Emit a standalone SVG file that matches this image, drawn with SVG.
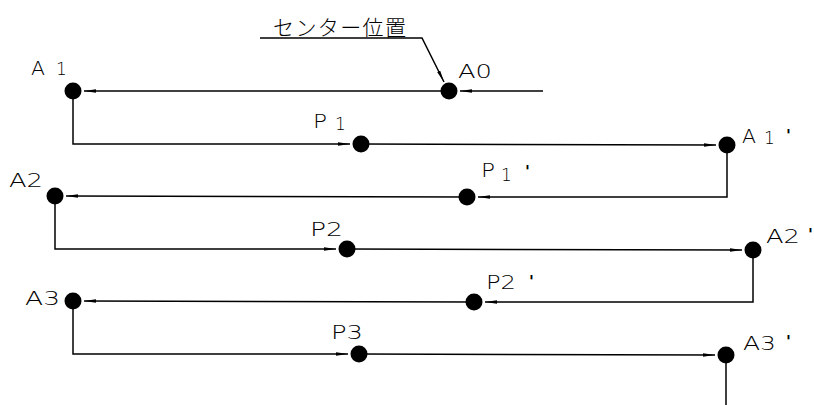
<svg xmlns="http://www.w3.org/2000/svg" width="814" height="405" viewBox="0 0 814 405">
<style>
.ln{fill:none;stroke:#000;stroke-width:1.5}
.dot{fill:#000}
.t{font-family:"DejaVu Sans","Liberation Sans",sans-serif;font-size:20px;font-weight:200;fill:#000}
.s{font-family:"DejaVu Sans","Liberation Sans",sans-serif;font-size:17px;font-weight:200;fill:#000}
.q{font-family:"DejaVu Sans","Liberation Sans",sans-serif;font-size:16px;font-weight:bold;fill:#000}
.jp{font-family:"Noto Sans CJK JP","Noto Sans",sans-serif;font-size:21px;font-weight:300;fill:#000}
</style>
<defs>
<marker id="ah" viewBox="0 0 12 4" refX="12" refY="2" markerWidth="12" markerHeight="4" orient="auto" markerUnits="userSpaceOnUse">
<path d="M0,0.3 L12,2 L0,3.7 z" fill="#000"/>
</marker>
</defs>
<rect width="814" height="405" fill="#fff"/>
<g id="connectors">
<path class="ln" d="M543,91 H460" marker-end="url(#ah)"/>
<path class="ln" d="M449,91 H84" marker-end="url(#ah)"/>
<path class="ln" d="M73,91 V144 H350" marker-end="url(#ah)"/>
<path class="ln" d="M361,144 L716,145" marker-end="url(#ah)"/>
<path class="ln" d="M727,145 V197 H478" marker-end="url(#ah)"/>
<path class="ln" d="M467,197 L66,196" marker-end="url(#ah)"/>
<path class="ln" d="M55,196 V249 H336" marker-end="url(#ah)"/>
<path class="ln" d="M347,249 L742,250" marker-end="url(#ah)"/>
<path class="ln" d="M753,250 V302 H485" marker-end="url(#ah)"/>
<path class="ln" d="M474,302 L84,301" marker-end="url(#ah)"/>
<path class="ln" d="M73,301 V354 H348" marker-end="url(#ah)"/>
<path class="ln" d="M359,354 L715,355" marker-end="url(#ah)"/>
<path class="ln" d="M726,355 V405"/>
<path class="ln" d="M260,38 H422 L444,82" marker-end="url(#ah)"/>
</g>
<g id="center-label">
<text class="jp" x="273" y="35" textLength="133" lengthAdjust="spacing">センター位置</text>
</g>
<g id="A0">
<circle class="dot" cx="449" cy="91" r="8.5"/>
<text class="t" x="458" y="78" textLength="34" lengthAdjust="spacingAndGlyphs">A0</text>
</g>
<g id="A1">
<circle class="dot" cx="73" cy="91" r="8.5"/>
<text class="t" x="31" y="75" textLength="14" lengthAdjust="spacingAndGlyphs">A</text>
<text class="s" x="56" y="75">1</text>
</g>
<g id="P1">
<circle class="dot" cx="361" cy="144" r="8.5"/>
<text class="t" x="313" y="128" textLength="14" lengthAdjust="spacingAndGlyphs">P</text>
<text class="s" x="335" y="130">1</text>
</g>
<g id="A1p">
<circle class="dot" cx="727" cy="145" r="8.5"/>
<text class="t" x="742" y="143" textLength="14" lengthAdjust="spacingAndGlyphs">A</text>
<text class="s" x="764" y="144">1</text>
<text class="q" x="786" y="141">'</text>
</g>
<g id="P1p">
<circle class="dot" cx="467" cy="197" r="8.5"/>
<text class="t" x="481" y="177" textLength="14" lengthAdjust="spacingAndGlyphs">P</text>
<text class="s" x="501" y="181">1</text>
<text class="q" x="525" y="177">'</text>
</g>
<g id="A2">
<circle class="dot" cx="55" cy="196" r="8.5"/>
<text class="t" x="9" y="187" textLength="34" lengthAdjust="spacingAndGlyphs">A2</text>
</g>
<g id="P2">
<circle class="dot" cx="347" cy="249" r="8.5"/>
<text class="t" x="310" y="236" textLength="33" lengthAdjust="spacingAndGlyphs">P2</text>
</g>
<g id="A2p">
<circle class="dot" cx="753" cy="250" r="8.5"/>
<text class="t" x="766" y="243" textLength="34" lengthAdjust="spacingAndGlyphs">A2</text>
<text class="q" x="808" y="240">'</text>
</g>
<g id="P2p">
<circle class="dot" cx="474" cy="302" r="8.5"/>
<text class="t" x="486" y="289" textLength="30" lengthAdjust="spacingAndGlyphs">P2</text>
<text class="q" x="529" y="287">'</text>
</g>
<g id="A3">
<circle class="dot" cx="73" cy="301" r="8.5"/>
<text class="t" x="25" y="305" textLength="35" lengthAdjust="spacingAndGlyphs">A3</text>
</g>
<g id="P3">
<circle class="dot" cx="359" cy="354" r="8.5"/>
<text class="t" x="331" y="339" textLength="32" lengthAdjust="spacingAndGlyphs">P3</text>
</g>
<g id="A3p">
<circle class="dot" cx="726" cy="355" r="8.5"/>
<text class="t" x="743" y="350" textLength="33" lengthAdjust="spacingAndGlyphs">A3</text>
<text class="q" x="786" y="347">'</text>
</g>
</svg>
